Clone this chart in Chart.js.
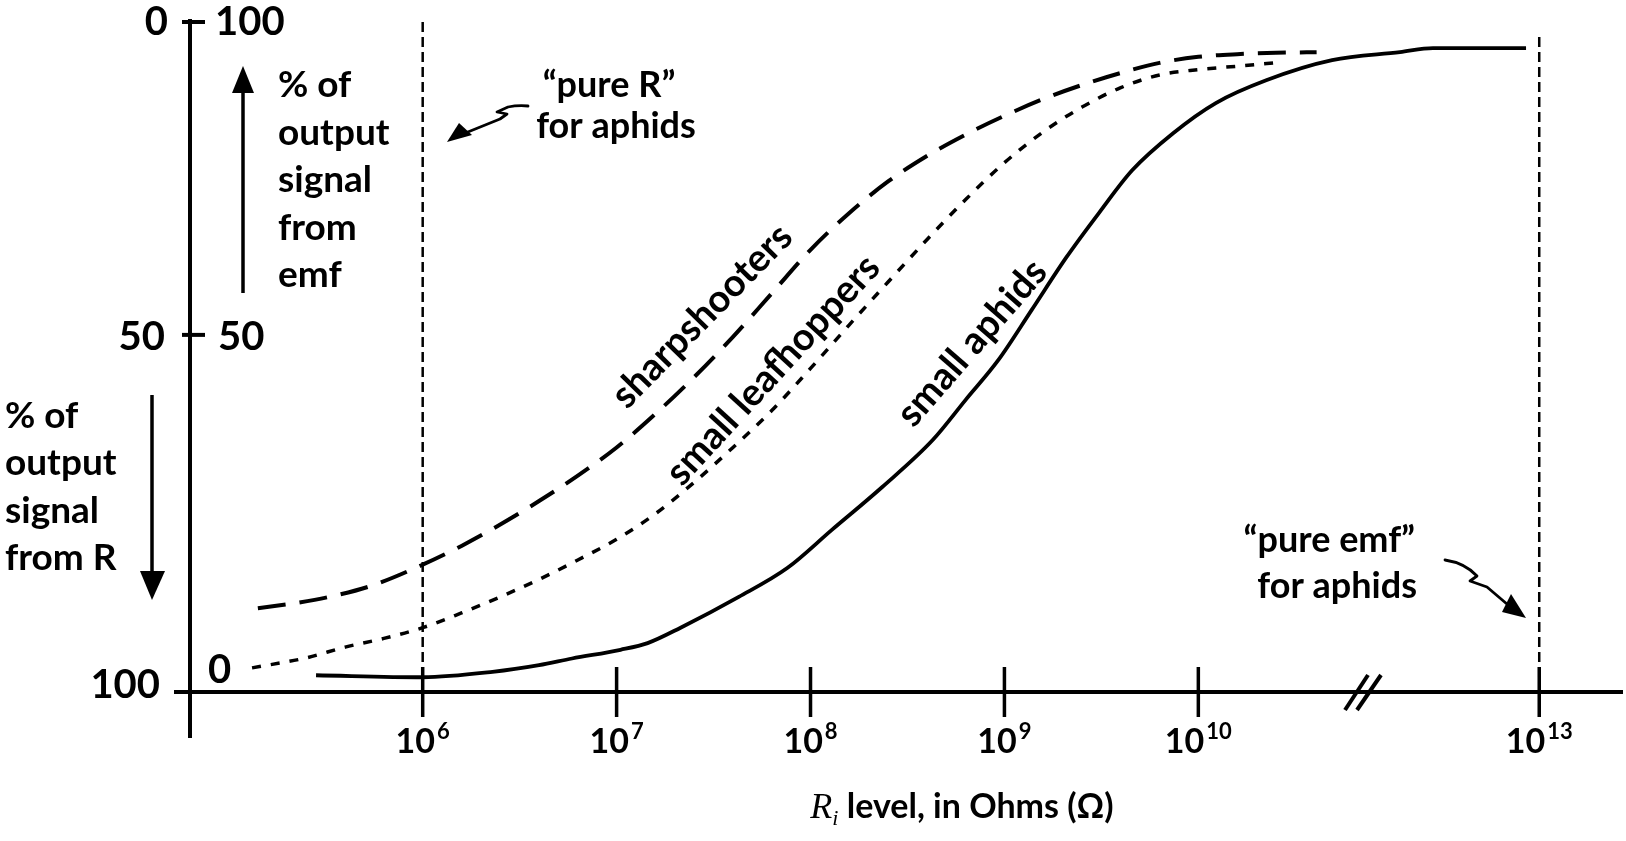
<!DOCTYPE html>
<html><head><meta charset="utf-8">
<script src="https://cdn.jsdelivr.net/npm/chart.js@4"></script>
<style>html,body{margin:0;padding:0;background:#fff;overflow:hidden}canvas{display:block}</style>
</head><body>
<canvas id="c" width="1626" height="841"></canvas>
<script>
// x = position along the R_i axis in decades (10^6 -> 6 ... 10^10 -> 10); axis is broken after 10^10, 10^13 sits at 11.758
const xTickValues = [6, 7, 8, 9, 10, 11.758];
const xTickBase   = ['10', '10', '10', '10', '10', '10'];
const xTickExp    = ['6', '7', '8', '9', '10', '13'];
// y = % of output signal from emf (right labels); left labels = % from R
const yTickValues = [0, 53.3, 100];
const yTickLeft   = ['100', '50', '0'];
const yTickRight  = ['0', '50', '100'];

const aphidsX = [5.45, 6.0, 6.36, 6.6, 6.77, 7.02, 7.16, 7.33, 7.63, 7.88, 8.11, 8.37, 8.63, 8.8, 8.97, 9.14, 9.32, 9.49, 9.66, 9.87, 10.09, 10.35, 10.69, 11.04, 11.21, 11.69];
const aphidsY = [2.5, 2.2, 3.0, 4.0, 5.0, 6.3, 7.3, 9.6, 14.2, 18.5, 24.2, 30.6, 37.6, 43.6, 49.6, 57.0, 64.9, 71.6, 77.9, 83.4, 87.9, 91.3, 94.3, 95.5, 96.1, 96.1];

const leafX = [5.12, 5.4, 5.6, 5.8, 6.0, 6.2, 6.4, 6.6, 6.8, 7.0, 7.2, 7.4, 7.6, 7.8, 8.0, 8.2, 8.4, 8.6, 8.8, 9.0, 9.2, 9.4, 9.6, 9.8, 10.0, 10.2, 10.43];
const leafY = [3.6, 5.1, 6.7, 8.0, 9.6, 11.8, 14.2, 16.8, 19.7, 22.8, 26.6, 31.3, 36.5, 42.0, 48.3, 54.8, 61.2, 67.5, 73.5, 79.0, 83.6, 87.3, 90.2, 92.1, 92.9, 93.4, 94.0];

const sharpX = [5.15, 5.35, 5.55, 5.75, 6.0, 6.2, 6.4, 6.6, 6.8, 7.0, 7.2, 7.4, 7.6, 7.8, 8.0, 8.2, 8.4, 8.6, 8.8, 9.0, 9.2, 9.4, 9.6, 9.8, 10.0, 10.2, 10.4, 10.61];
const sharpY = [12.5, 13.3, 14.4, 16.0, 19.0, 21.8, 25.0, 28.5, 32.3, 36.5, 41.5, 47.0, 53.0, 59.5, 66.0, 71.5, 76.2, 80.0, 83.2, 86.0, 88.5, 90.6, 92.4, 93.9, 94.8, 95.2, 95.4, 95.5];

const pureRX = [6, 6];             const pureRY = [0, 100];
const pureEmfX = [11.758, 11.758]; const pureEmfY = [0, 98.5];

const FONT = 'Lato, "Open Sans", "DejaVu Sans", sans-serif';
const pts = (xs, ys) => xs.map((v, i) => ({x: v, y: ys[i]}));

function arrowHead(ctx, tip, a, b) {
  ctx.beginPath(); ctx.moveTo(tip[0], tip[1]); ctx.lineTo(a[0], a[1]); ctx.lineTo(b[0], b[1]); ctx.closePath(); ctx.fill();
}

const deco = {
  id: 'deco',
  afterDatasetsDraw(chart) {
    const {ctx, scales: {x, y}} = chart;
    const ax = x.left, ay = y.bottom;
    ctx.save();
    ctx.strokeStyle = '#000'; ctx.fillStyle = '#000'; ctx.lineCap = 'butt';
    // axes
    ctx.lineWidth = 4;
    ctx.beginPath(); ctx.moveTo(ax, 19); ctx.lineTo(ax, 738); ctx.stroke();
    ctx.beginPath(); ctx.moveTo(174, ay); ctx.lineTo(x.right, ay); ctx.stroke();
    // y ticks (crossing)
    yTickValues.forEach((v, i) => {
      const py = y.getPixelForValue(v);
      if (i > 0) { ctx.beginPath(); ctx.moveTo(ax - 8, py); ctx.lineTo(ax + 15, py); ctx.stroke(); }
    });
    // x ticks
    ctx.lineWidth = 3.5;
    xTickValues.forEach(v => {
      const px = x.getPixelForValue(v);
      ctx.beginPath(); ctx.moveTo(px, ay - 25); ctx.lineTo(px, ay + 25); ctx.stroke();
    });
    // axis break //
    ctx.lineWidth = 4;
    [[1345, 1368], [1357, 1381]].forEach(([a, b]) => {
      ctx.beginPath(); ctx.moveTo(a, ay + 18); ctx.lineTo(b, ay - 17); ctx.stroke();
    });
    // y tick labels
    ctx.font = 'bold 40px ' + FONT; ctx.textBaseline = 'alphabetic';
    const leftOff = [6, 15, 13], rightOff = [-9, 15, 13];
    const leftX = [30, 25, 22], rightX = [18, 28, 25];
    yTickValues.forEach((v, i) => {
      const py = y.getPixelForValue(v);
      ctx.textAlign = 'right';
      ctx.fillText(yTickLeft[i], ax - leftX[i], py + leftOff[i]);
      ctx.textAlign = 'left';
      ctx.fillText(yTickRight[i], ax + rightX[i], py + rightOff[i]);
    });
    // x tick labels with superscripts
    xTickValues.forEach((v, i) => {
      const px = x.getPixelForValue(v);
      ctx.font = 'bold 34px ' + FONT; const w1 = ctx.measureText(xTickBase[i]).width;
      ctx.font = 'bold 22px ' + FONT; const w2 = ctx.measureText(xTickExp[i]).width;
      const x0 = px - (w1 + w2 + 2) / 2;
      ctx.textAlign = 'left';
      ctx.font = 'bold 34px ' + FONT; ctx.fillText(xTickBase[i], x0, ay + 61);
      ctx.font = 'bold 22px ' + FONT; ctx.fillText(xTickExp[i], x0 + w1 + 2, ay + 47);
    });
    // x title
    {
      ctx.textAlign = 'left';
      ctx.font = 'italic 36px "Liberation Serif", serif'; const wR = ctx.measureText('R').width;
      ctx.font = 'italic 22px "Liberation Serif", serif'; const wi = ctx.measureText('i').width;
      ctx.font = 'bold 34px ' + FONT; const wt = ctx.measureText(' level, in Ohms (Ω)').width;
      const x0 = 962 - (wR + wi + wt) / 2, by = 818;
      ctx.font = 'italic 36px "Liberation Serif", serif'; ctx.fillText('R', x0, by);
      ctx.font = 'italic 22px "Liberation Serif", serif'; ctx.fillText('i', x0 + wR, by + 7);
      ctx.font = 'bold 34px ' + FONT; ctx.fillText(' level, in Ohms (Ω)', x0 + wR + wi, by);
    }
    // side annotations
    ctx.font = 'bold 37px ' + FONT; ctx.textAlign = 'left';
    ['% of', 'output', 'signal', 'from', 'emf'].forEach((t, i) => ctx.fillText(t, 278, 97 + i * 47.5));
    ['% of', 'output', 'signal', 'from R'].forEach((t, i) => ctx.fillText(t, 5, 428 + i * 47.3));
    ctx.font = 'bold 36px ' + FONT;
    ctx.textAlign = 'center';
    ctx.fillText('\u201Cpure R\u201D', 609, 97);
    ctx.fillText('for aphids', 616, 138);
    ctx.textAlign = 'right';
    ctx.fillText('\u201Cpure emf\u201D', 1415, 552);
    ctx.fillText('for aphids', 1417, 598);
    // straight arrows
    ctx.lineWidth = 3.5;
    ctx.beginPath(); ctx.moveTo(243, 293); ctx.lineTo(243, 85); ctx.stroke();
    arrowHead(ctx, [243, 66], [232, 93], [254, 93]);
    ctx.beginPath(); ctx.moveTo(152, 395); ctx.lineTo(152, 580); ctx.stroke();
    arrowHead(ctx, [152, 600], [140, 571], [165, 571]);
    // squiggle arrows
    ctx.lineWidth = 2.8; ctx.lineJoin = 'round'; ctx.lineCap = 'round';
    ctx.beginPath();
    ctx.moveTo(528, 106); ctx.quadraticCurveTo(518, 105, 508, 107);
    ctx.lineTo(497, 112); ctx.lineTo(507, 114); ctx.lineTo(500, 119);
    ctx.lineTo(458, 136); ctx.stroke();
    arrowHead(ctx, [447, 142], [459, 123], [472, 135]);
    ctx.beginPath();
    ctx.moveTo(1445, 560); ctx.quadraticCurveTo(1465, 563, 1477, 576);
    ctx.lineTo(1470, 581); ctx.lineTo(1487, 587); ctx.lineTo(1514, 610); ctx.stroke();
    arrowHead(ctx, [1526, 618], [1511, 594], [1502, 612]);
    // rotated curve labels
    ctx.font = 'bold 38px ' + FONT; ctx.textAlign = 'center'; ctx.textBaseline = 'middle';
    [['sharpshooters', 702, 316, -45.6], ['small leafhoppers', 773, 370, -47.5], ['small aphids', 972, 343, -49]].forEach(([t, px, py, a]) => {
      ctx.save(); ctx.translate(px, py); ctx.rotate(a * Math.PI / 180); ctx.fillText(t, 0, 0); ctx.restore();
    });
    ctx.restore();
  }
};

function build() {
  new Chart(document.getElementById('c'), {
    type: 'line',
    data: {
      datasets: [
        {label: 'small aphids', data: pts(aphidsX, aphidsY), borderColor: '#000', borderWidth: 3.8, pointRadius: 0, cubicInterpolationMode: 'monotone', fill: false, clip: false},
        {label: 'small leafhoppers', data: pts(leafX, leafY), borderColor: '#000', borderWidth: 3.5, borderDash: [9, 10], pointRadius: 0, cubicInterpolationMode: 'monotone', fill: false, clip: false},
        {label: 'sharpshooters', data: pts(sharpX, sharpY), borderColor: '#000', borderWidth: 4, borderDash: [28, 14], pointRadius: 0, cubicInterpolationMode: 'monotone', fill: false, clip: false},
        {label: 'pure R', data: pts(pureRX, pureRY), borderColor: '#000', borderWidth: 2.5, borderDash: [10, 5], pointRadius: 0, fill: false, clip: false},
        {label: 'pure emf', data: pts(pureEmfX, pureEmfY), borderColor: '#000', borderWidth: 2.5, borderDash: [10, 5], pointRadius: 0, fill: false, clip: false}
      ]
    },
    options: {
      responsive: false, animation: false, devicePixelRatio: 1,
      layout: {padding: {left: 190, right: 3, top: 22, bottom: 149}},
      scales: {
        x: {type: 'linear', min: 4.8, max: 12.19, display: false},
        y: {type: 'linear', min: 0, max: 100, display: false}
      },
      plugins: {legend: {display: false}, tooltip: {enabled: false}}
    },
    plugins: [deco]
  });
}
Promise.all([document.fonts.load('bold 36px Lato'), document.fonts.load('36px Lato'), document.fonts.load('italic 36px "Liberation Serif"')]).then(build, build);
</script>
</body></html>
